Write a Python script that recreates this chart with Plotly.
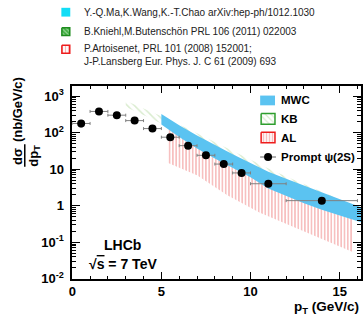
import plotly.graph_objects as go

# ---------------- data ----------------
pt = [0.5, 1.5, 2.5, 3.5, 4.5, 5.5, 6.5, 7.5, 8.5, 9.5, 11, 14]
pt_err = [0.5, 0.5, 0.5, 0.5, 0.5, 0.5, 0.5, 0.5, 0.5, 0.5, 1, 2]
xsec = [178, 380, 300, 213, 129, 75, 44, 24, 13.8, 7.9, 4.0, 1.38]
xsec_err = [35, 60, 45, 30, 18, 10, 6, 3.2, 1.8, 1.0, 0.5, 0.18]

mwc_pt = [5, 6, 7, 8, 9, 10, 11, 12, 13, 14, 15, 16.2]
mwc_hi = [324, 158, 83, 45.7, 25.7, 14.8, 8.5, 5.5, 3.55, 2.29, 1.48, 0.91]
mwc_lo = [166, 76, 37, 19.5, 10.7, 6.0, 2.95, 1.9, 1.17, 0.78, 0.54, 0.355]

al_pt = [5.35, 7, 8.7, 10.5, 12, 14, 15.7]
al_hi = [170, 60, 22, 7.0, 3.0, 1.2, 0.55]
al_lo = [15.1, 6.8, 1.95, 0.65, 0.32, 0.123, 0.055]

kb_pt = [3, 4, 5, 6, 7, 8, 9, 10, 11, 12, 13, 14, 15]
kb_hi = [740, 468, 282, 166, 95, 54, 31, 18.2, 10.5, 6.3, 3.9, 2.4, 1.5]
kb_lo = [500, 302, 178, 89, 48, 26, 14.8, 8.5, 5.0, 3.0, 1.9, 1.2, 0.78]

y_tickvals = [0.01, 0.1, 1, 10, 100, 1000]
y_ticktext = ["10<sup>-2</sup>", "10<sup>-1</sup>", "1", "10", "10<sup>2</sup>", "10<sup>3</sup>"]
x_tickvals = [0, 5, 10, 15]
x_ticktext = ["0", "5", "10", "15"]

ref_labels = [
    "Y.-Q.Ma,K.Wang,K.-T.Chao arXiv:hep-ph/1012.1030",
    "B.Kniehl,M.Butenschön PRL 106 (2011) 022003",
    "P.Artoisenet, PRL 101 (2008) 152001;<br>J-P.Lansberg Eur. Phys. J. C 61 (2009) 693",
]
leg_labels = ["MWC", "KB", "AL", "Prompt ψ(2S)"]

FONT = "Liberation Sans, Arial, Helvetica, sans-serif"
BLUE = "#5BC3F1"
CYAN = "#12DDF6"
RED_HATCH = "#F08282"
GREEN_HATCH = "#B5D9A0"

fig = go.Figure()


def band(x, lo, hi, **kw):
    xs = list(x) + list(x)[::-1]
    ys = list(hi) + list(lo)[::-1]
    return go.Scatter(x=xs, y=ys, fill="toself", mode="lines", line=dict(width=0),
                      hoverinfo="skip", showlegend=False, **kw)


# KB band (green diagonal hatch)
fig.add_trace(band(kb_pt, kb_lo, kb_hi, fillcolor="rgba(0,0,0,0)",
                   fillpattern=dict(shape="\\", fgcolor=GREEN_HATCH, bgcolor="rgba(0,0,0,0)",
                                    size=5, solidity=0.3)))
# AL band (red vertical hatch)
fig.add_trace(band(al_pt, al_lo, al_hi, fillcolor="rgba(0,0,0,0)",
                   fillpattern=dict(shape="|", fgcolor=RED_HATCH, bgcolor="rgba(0,0,0,0)",
                                    size=3.3, solidity=0.5)))
# MWC band (solid blue)
fig.add_trace(band(mwc_pt, mwc_lo, mwc_hi, fillcolor=BLUE))

# data points
fig.add_trace(go.Scatter(
    x=pt, y=xsec, mode="markers",
    marker=dict(color="black", size=8),
    error_x=dict(type="data", array=pt_err, color="#808080", thickness=1, width=1.5),
    error_y=dict(type="data", array=xsec_err, color="#808080", thickness=1, width=1.5),
    showlegend=False, hoverinfo="skip"))

# ---------- overlay pixel axes for legends ----------
def rect(x0, x1, y0, y1):
    return [x0, x1, x1, x0, x0], [y0, y0, y1, y1, y0]

PX = dict(xaxis="x2", yaxis="y2", showlegend=False, hoverinfo="skip")

# top reference legend icons
xs, ys = rect(58, 67, 8, 17)
fig.add_trace(go.Scatter(x=xs, y=ys, fill="toself", fillcolor=CYAN, mode="lines",
                         line=dict(width=0), **PX))
xs, ys = rect(58.5, 66.5, 28.5, 36.5)
fig.add_trace(go.Scatter(x=xs, y=ys, fill="toself", fillcolor="#44B044", mode="lines",
                         fillpattern=dict(shape="\\", fgcolor="white", bgcolor="#44B044", size=3, solidity=0.35),
                         line=dict(width=1.5, color="#1E8C1E"), **PX))
xs, ys = rect(58.5, 66.5, 46.5, 54.5)
fig.add_trace(go.Scatter(x=xs, y=ys, fill="toself", fillcolor="white", mode="lines",
                         fillpattern=dict(shape="|", fgcolor="#F07070", bgcolor="white", size=3, solidity=0.4),
                         line=dict(width=1.5, color="#EE1C1C"), **PX))

# inner legend icons
xs, ys = rect(259, 274, 98, 108)
fig.add_trace(go.Scatter(x=xs, y=ys, fill="toself", fillcolor=BLUE, mode="lines",
                         line=dict(width=0), **PX))
xs, ys = rect(260, 274, 116.5, 127.5)
fig.add_trace(go.Scatter(x=xs, y=ys, fill="toself", fillcolor="white", mode="lines",
                         fillpattern=dict(shape="\\", fgcolor=GREEN_HATCH, bgcolor="white", size=4, solidity=0.3),
                         line=dict(width=1.5, color="#2E9E2E"), **PX))
xs, ys = rect(260, 274, 135.5, 146.5)
fig.add_trace(go.Scatter(x=xs, y=ys, fill="toself", fillcolor="white", mode="lines",
                         fillpattern=dict(shape="|", fgcolor=RED_HATCH, bgcolor="white", size=3, solidity=0.5),
                         line=dict(width=1.5, color="#EE1C1C"), **PX))
fig.add_trace(go.Scatter(x=[259, 275], y=[161, 161], mode="lines",
                         line=dict(width=1, color="#606060"), **PX))
fig.add_trace(go.Scatter(x=[267], y=[161], mode="markers",
                         marker=dict(color="black", size=8), **PX))

# ---------- annotations ----------
ann = []
ref_y = [12.5, 32.5, 56.5]
for lab, yy in zip(ref_labels, ref_y):
    ann.append(dict(x=79, y=yy, xref="x2", yref="y2", text=lab, showarrow=False,
                    xanchor="left", yanchor="middle", align="left",
                    font=dict(family=FONT, size=10, color="#222")))
leg_y = [103, 122, 141.5, 161]
for lab, yy in zip(leg_labels, leg_y):
    ann.append(dict(x=278, y=yy, xref="x2", yref="y2", text=lab, showarrow=False,
                    xanchor="left", yanchor="middle",
                    font=dict(family=FONT, size=11.5, color="black", weight="bold")))
ann.append(dict(x=120, y=251, xref="x2", yref="y2", text="LHCb", showarrow=False,
                font=dict(family=FONT, size=14, color="black", weight="bold")))
ann.append(dict(x=120, y=270.5, xref="x2", yref="y2",
                text="√<span style='text-decoration:overline'>s</span> = 7 TeV", showarrow=False,
                font=dict(family=FONT, size=14, color="black", weight="bold")))
ann.append(dict(x=361, y=315.5, xref="x2", yref="y2", text="p<sub>T</sub> (GeV/c)",
                showarrow=False, xanchor="right", yanchor="middle",
                font=dict(family=FONT, size=13.5, color="black", weight="bold")))
ann.append(dict(x=13, y=112, xref="x2", yref="y2", text="(nb/GeV/c)", textangle=-90,
                showarrow=False, font=dict(family=FONT, size=13, color="black", weight="bold")))
ann.append(dict(x=13, y=160, xref="x2", yref="y2", text="dσ", textangle=-90,
                showarrow=False, font=dict(family=FONT, size=13, color="black", weight="bold")))
ann.append(dict(x=30, y=160, xref="x2", yref="y2", text="dp<sub>T</sub>", textangle=-90,
                showarrow=False, font=dict(family=FONT, size=13, color="black", weight="bold")))

shapes = [dict(type="line", xref="x2", yref="y2", x0=21, x1=21, y0=148, y1=171,
               line=dict(color="black", width=1.5))]

minor_y = []
for e in [0.01, 0.1, 1, 10, 100, 1000]:
    for m in range(2, 10):
        v = e * m
        if v < 1950:
            minor_y.append(v)

fig.update_layout(
    width=363, height=322,
    margin=dict(l=0, r=0, t=0, b=0),
    paper_bgcolor="white", plot_bgcolor="rgba(0,0,0,0)",
    showlegend=False,
    annotations=ann, shapes=shapes,
    xaxis=dict(domain=[69 / 363, 361 / 363], range=[0, 16.2], anchor="y",
               showline=True, linecolor="black", linewidth=1.5, mirror="allticks",
               ticks="inside", ticklen=7, tickwidth=1.2, tickcolor="black",
               tickvals=x_tickvals, ticktext=x_ticktext,
               tickfont=dict(family=FONT, size=13, color="black", weight="bold"),
               minor=dict(tickvals=[v for v in range(1, 17) if v % 5 != 0], ticks="inside",
                          ticklen=3.5, tickwidth=1, tickcolor="black"),
               showgrid=False, zeroline=False, fixedrange=True),
    yaxis=dict(domain=[36 / 322, 234 / 322], type="log", range=[-2, 3.28], anchor="x",
               showline=True, linecolor="black", linewidth=1.5, mirror="allticks",
               ticks="inside", ticklen=8, tickwidth=1.2, tickcolor="black",
               tickvals=y_tickvals, ticktext=y_ticktext,
               tickfont=dict(family=FONT, size=13, color="black", weight="bold"),
               ticklabelstandoff=4,
               minor=dict(tickvals=minor_y, ticks="inside", ticklen=4, tickwidth=1, tickcolor="black"),
               showgrid=False, zeroline=False, fixedrange=True),
    xaxis2=dict(domain=[0, 1], range=[0, 363], anchor="y2", visible=False, fixedrange=True),
    yaxis2=dict(domain=[0, 1], range=[322, 0], anchor="x2", visible=False, fixedrange=True),
)

fig.write_html("out.html",
               config={"displayModeBar": False, "responsive": False},
               post_script="document.body.style.margin='0';document.body.style.padding='0';document.body.style.overflow='hidden';")
